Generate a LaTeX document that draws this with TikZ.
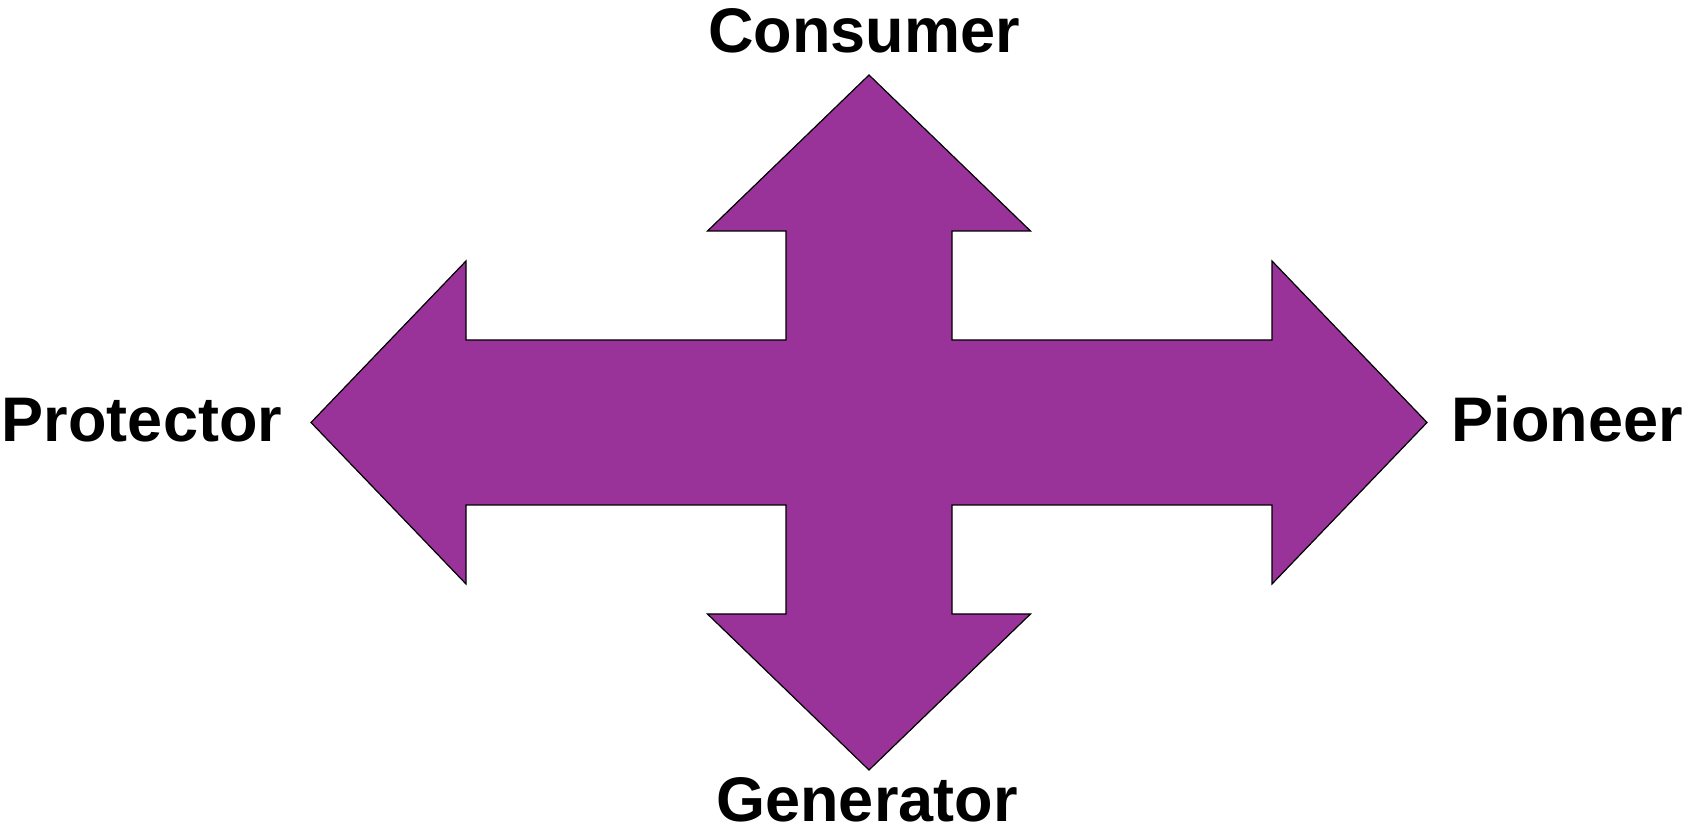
\documentclass[tikz,border=0pt]{standalone}
\usepackage{fontspec}
\setmainfont{Liberation Sans}
\usepackage{tikz}
\usetikzlibrary{positioning}
\definecolor{arrowpurple}{RGB}{153,51,153}

\begin{document}
\begin{tikzpicture}[x=1pt, y=1pt,
    label/.style={font=\fontsize{63}{70}\selectfont\bfseries, inner sep=0pt, anchor=base}]
    % Frame
    \useasboundingbox (0,0) rectangle (1683,832);

    % Four-way arrow
    \filldraw[fill=arrowpurple, draw=black, line width=1.2pt, line join=miter]
        (869,757) -- (1030.5,601) -- (952,601) -- (952,492) -- (1272,492) -- (1272,571)
        -- (1427,409.5) -- (1272,248) -- (1272,327) -- (952,327) -- (952,218) -- (1030.5,218)
        -- (869,62) -- (707.5,218) -- (786,218) -- (786,327) -- (466,327) -- (466,248)
        -- (311,409.5) -- (466,571) -- (466,492) -- (786,492) -- (786,601) -- (707.5,601)
        -- cycle;

    % Labels
    \node[label] (consumer) at (864,779) {Consumer};
    \node[label] (generator) at (867,10) {Generator};
    \node[label] (protector) at (142,390) {Protector};
    \node[label] (pioneer) at (1567,390) {Pioneer};
\end{tikzpicture}
\end{document}
